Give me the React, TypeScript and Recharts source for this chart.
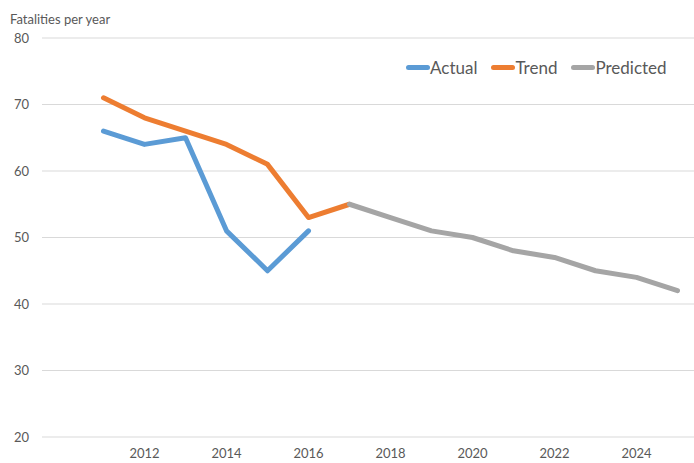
import React from 'react'
import { LineChart, Line, XAxis, YAxis, CartesianGrid, Legend } from 'recharts'

const years = ['2010', '2011', '2012', '2013', '2014', '2015', '2016', '2017', '2018', '2019', '2020', '2021', '2022', '2023', '2024', '2025']
const actual = [null, 66, 64, 65, 51, 45, 51, null, null, null, null, null, null, null, null, null]
const trend = [null, 71, 68, 66, 64, 61, 53, 55, null, null, null, null, null, null, null, null]
const predicted = [null, null, null, null, null, null, null, 55, 53, 51, 50, 48, 47, 45, 44, 42]
const yTicks = [20, 30, 40, 50, 60, 70, 80]
const seriesOrder = ['Actual', 'Trend', 'Predicted']

const data = years.map((y, i) => ({ year: y, Actual: actual[i], Trend: trend[i], Predicted: predicted[i] }))

const font = 'Lato, "Open Sans", sans-serif'

const LegendBox = (props: any) => {
  const items = [...(props.payload || [])].sort(
    (a: any, b: any) => seriesOrder.indexOf(a.value) - seriesOrder.indexOf(b.value)
  )
  return (
    <div style={{ display: 'flex', alignItems: 'center', fontFamily: font, fontSize: 17, color: '#595959' }}>
      {items.map((it: any) => (
        <div key={it.value} style={{ display: 'flex', alignItems: 'center', marginRight: 14 }}>
          <span style={{ display: 'inline-block', width: 24, height: 5, borderRadius: 3, background: it.color }} />
          <span>{it.value}</span>
        </div>
      ))}
    </div>
  )
}

const App: React.FC = () => {
  return (
    <div style={{ position: 'absolute', left: 0, top: 0, width: 694, height: 463, overflow: 'hidden', background: '#fff' }}>
      <div style={{ position: 'absolute', left: 10, top: 11, fontFamily: font, fontSize: 13, color: '#595959' }}>
        Fatalities per year
      </div>
      <LineChart width={704} height={463} data={data} margin={{ top: 38, right: 6, bottom: 0, left: 0 }}>
        <CartesianGrid horizontal vertical={false} stroke="#d9d9d9" />
        <XAxis
          dataKey="year"
          interval={1}
          padding={{ left: 20.5, right: 20.5 }}
          axisLine={false}
          tickLine={false}
          tickSize={0}
          tickMargin={12}
          height={26}
          tickFormatter={(v: string) => (v === '2010' ? '' : v)}
          tick={{ fill: '#595959', fontSize: 13, fontFamily: font }}
        />
        <YAxis
          domain={[20, 80]}
          ticks={yTicks}
          axisLine={false}
          tickLine={false}
          tickSize={0}
          tickMargin={13}
          width={42}
          tick={{ fill: '#595959', fontSize: 13, fontFamily: font }}
        />
        <Legend
          content={<LegendBox />}
          verticalAlign="middle"
          wrapperStyle={{ top: 57, left: 406, width: 300 }}
        />
        <Line dataKey="Actual" stroke="#5B9BD5" strokeWidth={5} dot={false} strokeLinecap="round" strokeLinejoin="round" isAnimationActive={false} />
        <Line dataKey="Trend" stroke="#ED7D31" strokeWidth={5} dot={false} strokeLinecap="round" strokeLinejoin="round" isAnimationActive={false} />
        <Line dataKey="Predicted" stroke="#A5A5A5" strokeWidth={5} dot={false} strokeLinecap="round" strokeLinejoin="round" isAnimationActive={false} />
      </LineChart>
    </div>
  )
}

export default App
